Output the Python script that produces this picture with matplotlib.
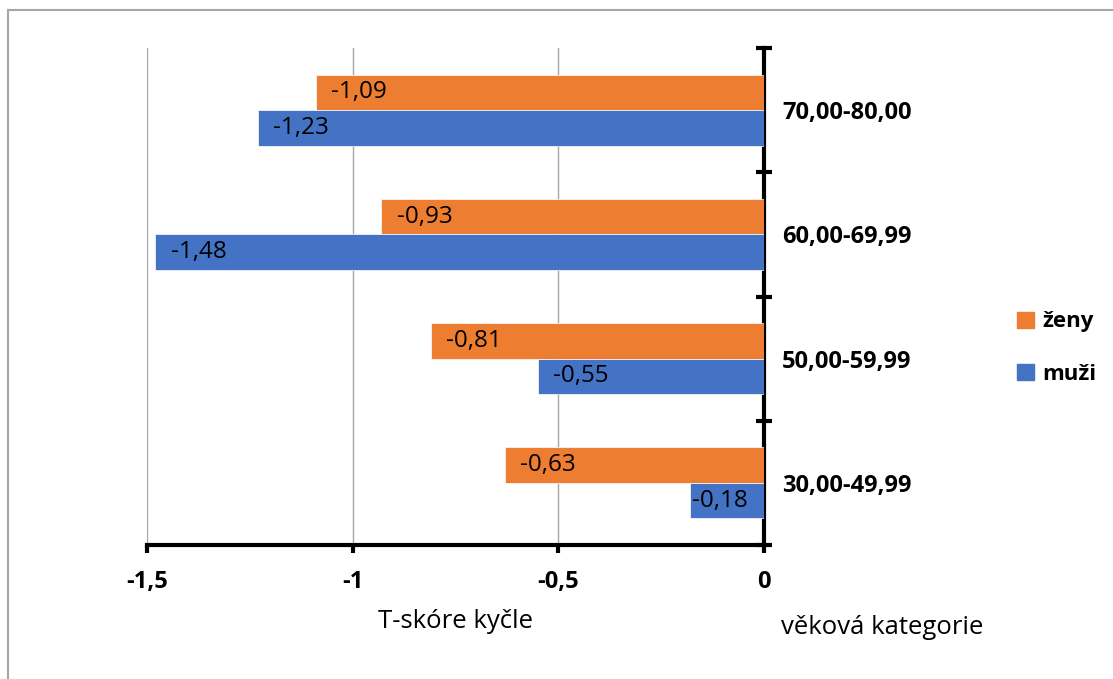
import matplotlib.pyplot as plt
from matplotlib.patches import Patch
from matplotlib.lines import Line2D
import numpy as np

# Data
kategorie = ['30,00-49,99', '50,00-59,99', '60,00-69,99', '70,00-80,00']
zeny = [-0.63, -0.81, -0.93, -1.09]
muzi = [-0.18, -0.55, -1.48, -1.23]

oranzova = '#ED7D31'
modra = '#4472C4'

plt.rcParams['font.family'] = ['Open Sans', 'DejaVu Sans']
fs_hodnoty = 17.5
fs_osy = 17
fs_nazvy = 18.5
fs_legenda = 16

fig = plt.figure(figsize=(11.13, 6.79), dpi=100)
ax = fig.add_axes([147 / 1113, 1 - 545 / 679, 617 / 1113, 497 / 679])

y = np.arange(len(kategorie))
h = 0.285
b_z = ax.barh(y + h / 2, zeny, height=h, color=oranzova, edgecolor='white', linewidth=0.5, zorder=3)
b_m = ax.barh(y - h / 2, muzi, height=h, color=modra, edgecolor='white', linewidth=0.5, zorder=3)

# popisky hodnot uvnitř sloupců
for bars, vals in ((b_z, zeny), (b_m, muzi)):
    for bar, v in zip(bars, vals):
        yc = bar.get_y() + bar.get_height() / 2
        txt = f'{v:.2f}'.replace('.', ',')
        if v > -0.3:
            ax.annotate(txt, (0, yc), xytext=(-11.5, 0), textcoords='offset points',
                        ha='right', va='center', fontsize=fs_hodnoty, zorder=4)
        else:
            ax.annotate(txt, (v, yc), xytext=(11, 0), textcoords='offset points',
                        ha='left', va='center', fontsize=fs_hodnoty, zorder=4)

ax.set_xlim(-1.5, 0)
ax.set_ylim(-0.5, 3.5)

# svislá mřížka
ax.set_xticks([-1.5, -1, -0.5, 0])
ax.set_xticklabels(['-1,5', '-1', '-0,5', '0'], fontsize=fs_osy, fontweight='bold')
ax.xaxis.grid(True, color='#a6a6a6', linewidth=1, zorder=0)
ax.set_axisbelow(True)

for s in ['top', 'left']:
    ax.spines[s].set_visible(False)
for s in ['right', 'bottom']:
    ax.spines[s].set_linewidth(3)
    ax.spines[s].set_color('black')

ax.tick_params(axis='x', direction='out', length=6, width=3, pad=12)

# osa kategorií vpravo
ax.yaxis.tick_right()
ax.set_yticks(np.arange(-0.5, 4, 1))
ax.set_yticklabels([])
ax.tick_params(axis='y', which='major', direction='inout', length=12, width=3)
ax.set_yticks(y, minor=True)
ax.set_yticklabels(kategorie, minor=True, fontsize=fs_osy, fontweight='bold')
ax.tick_params(axis='y', which='minor', length=0, pad=13)

fig.text(455 / 1113, 1 - 622 / 679, 'T-skóre kyčle', ha='center', va='center', fontsize=fs_nazvy)
fig.text(882 / 1113, 1 - 628 / 679, 'věková kategorie', ha='center', va='center', fontsize=fs_nazvy)

handles = [Patch(color=oranzova), Patch(color=modra)]
fig.legend(handles, ['ženy', 'muži'], loc='center left', bbox_to_anchor=(997 / 1113, 1 - 348 / 679),
           frameon=False, prop={'size': fs_legenda, 'weight': 'bold'}, handlelength=0.75, handleheight=0.75,
           handletextpad=0.4, labelspacing=1.4)

# rámeček grafu
fig.add_artist(Line2D([8 / 1113, 1], [1 - 10 / 679, 1 - 10 / 679], color='#a6a6a6', linewidth=1.5))
fig.add_artist(Line2D([8 / 1113, 8 / 1113], [0, 1 - 10 / 679], color='#a6a6a6', linewidth=1.5))

fig.savefig('out.png', dpi=100, facecolor='white')
